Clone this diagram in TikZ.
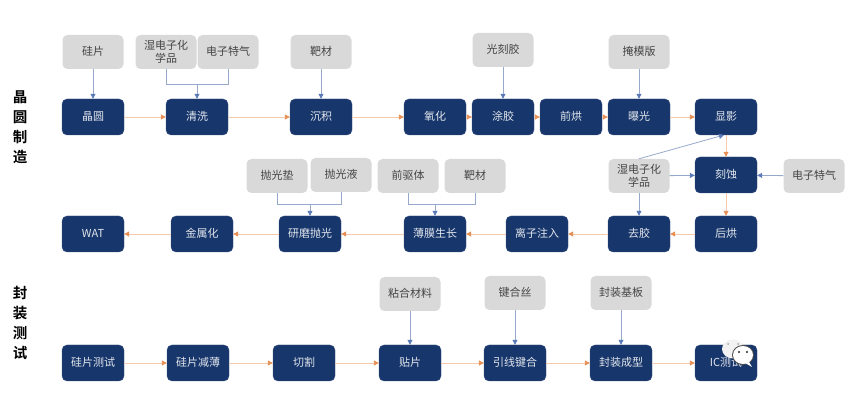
\documentclass[tikz,border=0pt]{standalone}
\usepackage{fontspec}
\setmainfont{Noto Sans CJK SC}
\newfontfamily\cjkbold{Noto Sans CJK SC Bold}
\usetikzlibrary{arrows.meta}
\definecolor{navy}{HTML}{17366B}
\definecolor{pale}{HTML}{D9D9D9}
\definecolor{ink}{HTML}{454545}
\definecolor{flowline}{HTML}{F6C9AC}
\definecolor{flowtip}{HTML}{E58F55}
\definecolor{feedline}{HTML}{98A8CC}
\definecolor{feedtip}{HTML}{5B7AB8}
\newcommand\linestrut{\rule[-1.5pt]{0pt}{11pt}}
\tikzset{
  dark/.style={draw=navy!85,line width=0.4pt,fill=navy,rounded corners=5pt,minimum width=62pt,minimum height=36pt,inner sep=0pt,text=white!88!navy,font=\fontsize{11pt}{12pt}\selectfont,execute at begin node=\linestrut},
  mat/.style={fill=pale,rounded corners=5pt,minimum width=61pt,minimum height=34pt,inner sep=0pt,text=ink,align=center,font=\fontsize{11pt}{13pt}\selectfont,execute at begin node=\linestrut},
  flow/.style={draw=flowline,line width=0.9pt,-{Triangle[length=5pt,width=5pt,color=flowtip]}},
  feed/.style={draw=feedline,line width=0.8pt,-{Triangle[length=5pt,width=5pt,color=feedtip]}},
  feedplain/.style={draw=feedline,line width=0.8pt},
  side/.style={text=black,inner sep=0pt,align=center,font=\cjkbold\fontsize{14.5pt}{20pt}\selectfont}
}
\begin{document}
\begin{tikzpicture}[x=1pt,y=-1pt]
\useasboundingbox (0,0) rectangle (860,411);
% side labels
\node[side] (s1) at (20,127) {晶\\圆\\制\\造};
\node[side] (s2) at (20,323) {封\\装\\测\\试};
% row 1
\node[dark] (a1) at (93,117) {晶圆};
\node[dark] (a2) at (197,117) {清洗};
\node[dark] (a3) at (321,117) {沉积};
\node[dark] (a4) at (435,117) {氧化};
\node[dark] (a5) at (503,117) {涂胶};
\node[dark] (a6) at (571,117) {前烘};
\node[dark] (a7) at (639,117) {曝光};
\node[dark] (a8) at (726,117) {显影};
\node[dark] (etch) at (726,175) {刻蚀};
% row 2
\node[dark] (b7) at (726,234) {后烘};
\node[dark] (b6) at (639,234) {去胶};
\node[dark] (b5) at (537,234) {离子注入};
\node[dark] (b4) at (435,234) {薄膜生长};
\node[dark] (b3) at (310,234) {研磨抛光};
\node[dark] (b2) at (202,234) {金属化};
\node[dark] (b1) at (93,234) {WAT};
% row 3
\node[dark] (c1) at (93,363) {硅片测试};
\node[dark] (c2) at (198,363) {硅片减薄};
\node[dark] (c3) at (304,363) {切割};
\node[dark] (c4) at (410,363) {贴片};
\node[dark] (c5) at (515,363) {引线键合};
\node[dark] (c6) at (621,363) {封装成型};
\node[dark] (c7) at (726,363) {IC测试};
% materials
\node[mat] (m1) at (93,52) {硅片};
\node[mat] (m2) at (166,52) {湿电子化\\\linestrut 学品};
\node[mat] (m3) at (228,52) {电子特气};
\node[mat] (m4) at (321,52) {靶材};
\node[mat] (m5) at (503,50) {光刻胶};
\node[mat] (m6) at (639,52) {掩模版};
\node[mat] (n1) at (277,176) {抛光垫};
\node[mat] (n2) at (341,175) {抛光液};
\node[mat] (n3) at (408,176) {前驱体};
\node[mat] (n4) at (475,176) {靶材};
\node[mat] (n5) at (639,176) {湿电子化\\\linestrut 学品};
\node[mat] (n6) at (814,176) {电子特气};
\node[mat] (p1) at (410,294) {粘合材料};
\node[mat] (p2) at (515,293) {键合丝};
\node[mat] (p3) at (621,293) {封装基板};
% junctions
\coordinate (j1) at (197,84);
\coordinate (j2) at (310,204);
\coordinate (j3) at (435,204);
\coordinate (top) at (724,135);
% process flow
\draw[flow] (a1) -- (a2);
\draw[flow] (a2) -- (a3);
\draw[flow] (a3) -- (a4);
\draw[flow] (a4) -- (a5);
\draw[flow] (a5) -- (a6);
\draw[flow] (a6) -- (a7);
\draw[flow] (a7) -- (a8);
\draw[flow] (a8) -- (etch);
\draw[flow] (etch) -- (b7);
\draw[flow] (b7) -- (b6);
\draw[flow] (b6) -- (b5);
\draw[flow] (b5) -- (b4);
\draw[flow] (b4) -- (b3);
\draw[flow] (b3) -- (b2);
\draw[flow] (b2) -- (b1);
\draw[flow] (c1) -- (c2);
\draw[flow] (c2) -- (c3);
\draw[flow] (c3) -- (c4);
\draw[flow] (c4) -- (c5);
\draw[flow] (c5) -- (c6);
\draw[flow] (c6) -- (c7);
% feeds
\draw[feed] (m1) -- (a1);
\draw[feedplain] (m2.south) |- (j1);
\draw[feedplain] (m3.south) |- (j1);
\draw[feed] (j1) -- (a2);
\draw[feed] (m4) -- (a3);
\draw[feed] (m5) -- (a5);
\draw[feed] (m6) -- (a7);
\draw[feedplain] (n1.south) |- (j2);
\draw[feedplain] (n2.south) |- (j2);
\draw[feed] (j2) -- (b3);
\draw[feedplain] (n3.south) |- (j3);
\draw[feedplain] (n4.south) |- (j3);
\draw[feed] (j3) -- (b4);
\draw[feed] (n5.north) -- (top);
\draw[feed] (n5) -- (etch);
\draw[feed] (n5) -- (b6);
\draw[feed] (n6) -- (etch);
\draw[feed] (p1) -- (c4);
\draw[feed] (p2) -- (c5);
\draw[feed] (p3) -- (c6);
% watermark
\fill[white!90!gray] (733,349) ellipse (11pt and 9.5pt);
\fill[white!90!gray] (725,356) -- (729,352) -- (731,357) -- cycle;
\fill[gray!70] (728,344) circle (1pt) (738,344) circle (1pt);
\fill[black!70] (743,355) ellipse (11pt and 10pt);
\fill[white] (743,355) ellipse (10pt and 9pt);
\fill[white] (749,362) -- (752,367) -- (745,363) -- cycle;
\fill[black!85] (739,352) circle (1.2pt) (747,352) circle (1.2pt);
\end{tikzpicture}
\end{document}
